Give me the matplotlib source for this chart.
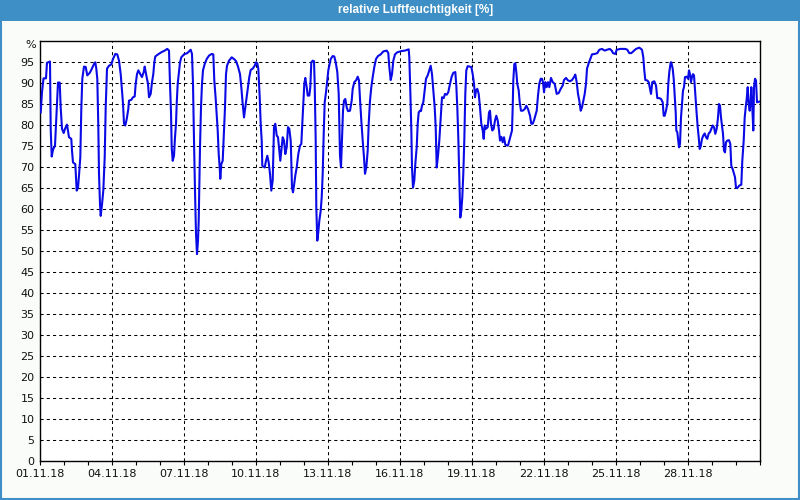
import numpy as np
import matplotlib
matplotlib.use("Agg")
import matplotlib.pyplot as plt
from matplotlib.patches import Rectangle
from matplotlib.ticker import MultipleLocator, FixedLocator

# Stunden seit 01.11.18 00:00 und relative Luftfeuchtigkeit in %
hours = [
    0.7, 2, 3, 3.5, 6, 7, 10, 10.3, 10.7, 11.7, 13, 15, 16, 18, 19.7, 20.7, 22, 23.7,
    25, 27, 29, 31.3, 32, 33, 35.3, 36.7, 38, 39, 40.3, 41.3, 42.3, 44, 45.7, 47.3,
    49.7, 51.3, 54, 55.3, 56.3, 57.3, 58.3, 59, 60, 60.7, 62, 63.3, 64.7, 65.7, 67, 69, 71.3,
    73, 75.3, 77.3, 79, 80.7, 82, 83, 84, 85.3, 86.7, 88.3, 89, 91.3, 93, 94.7, 95.7,
    97, 98.3, 100.3, 102, 103.7, 104.7, 106.3, 108, 109, 110.7, 112, 113.3, 114.3, 115.3, 118.7,
    121.3, 124.7, 127.3, 129, 130, 131, 131.7, 132.7, 134, 135, 136, 136.7, 137.7, 138.7, 140, 141.3,
    144, 147.3, 150.7, 152, 153, 154, 155, 156, 157, 158, 158.7, 159.3, 160, 161, 162, 163,
    164.7, 166.7, 169, 171.7, 173.3, 174.3, 175.7, 176.7, 177.7, 178.7, 179.7, 180.3, 181.3, 182.7,
    183.3, 184, 185, 186, 187, 189, 191.7, 194, 196, 198, 200, 201.3, 202.7, 204, 205.3, 206.7,
    208, 209.3, 210.7, 212.7, 214.7, 216, 217.3, 218.3, 219.7, 220.7, 221.7, 222.3, 224.7, 226,
    227.3, 228.7, 230, 231.3, 232.7, 234, 235.3, 236.7, 238, 239.3, 240.3, 241.3, 242.7, 244,
    245.3, 246.7, 248, 249.3, 250.7, 251, 252, 253, 254, 255.3, 256.7, 258.3, 260, 261.3, 262.3,
    263.3, 264.3, 265.3, 266.7, 267.7, 269.3, 270.3, 271.3, 272.7, 274, 274.7, 275.7, 276.3, 277.3,
    278.3, 279.3, 280.7, 281.7, 282.7, 283.7, 284.7, 286, 287.3, 288.3, 289.3, 290.7, 292.7, 294.3,
    295.7, 297.3, 298.7, 299.3, 300, 301, 302, 303, 304, 305.3, 306.7, 308, 310, 311.7, 312.7,
    314.3, 316.3, 317.7, 319, 320, 321.3, 322.7, 324, 325, 326.3, 327.7, 328.7, 330, 331.3, 332.7,
    334.3, 336, 338, 340.7, 343.3, 346.7, 348.3, 349.3, 350.7, 352, 353.3, 355, 357.3, 361.7, 365,
    368.7, 369.3, 370.3, 371.3, 372, 373, 374.3, 375.3, 376.7, 377.7, 378.7, 380, 381, 382, 383.3,
    384.7, 386, 387.7, 389.3, 390.7, 392, 393.3, 394.7, 395.7, 396.7, 398, 399.3, 400.7, 402,
    403.7, 405, 406.7, 408.3, 410, 411.7, 413.3, 415.3, 416.3, 417.3, 418.3, 419.3, 420.3, 421.3,
    422.3, 423.3, 424.3, 425.3, 426.3, 427.7, 429.3, 431.3, 432.7, 434, 435, 436, 437.3, 438.7,
    440, 441.3, 442.7, 443.7, 444.7, 446, 447.7, 449, 450, 451, 452.3, 453.7, 455, 456.3, 457.7,
    459, 460, 461.3, 462.7, 464, 465.3, 468, 469.3, 470.7, 472, 472.7, 473.3, 474.3, 475.3, 476.3,
    477.3, 478.7, 479.7, 481, 482.7, 484.7, 486.3, 488, 490, 491.3, 492.7, 494, 495.3, 496.7, 498,
    499.3, 500.7, 502, 503, 504, 505.3, 506.7, 508, 509.3, 511, 512.7, 514.7, 516.7, 518.7, 520.7,
    522.7, 524, 526, 528, 530, 532, 534, 535.3, 536.7, 538, 539.3, 540.7, 542, 543.3, 544.7, 546,
    547, 548.7, 550.3, 552, 554.7, 557.3, 559.3, 562, 564.7, 567, 569.7, 571.7, 573, 575.3, 576.7,
    580.3, 585.3, 587.3, 589.3, 591.3, 593.7, 596, 599.3, 602, 603.3, 604.3, 605.3, 607.3, 608.7,
    610, 611, 612.3, 614.3, 616, 617.3, 619.3, 621, 622.7, 623.7, 624.7, 626, 627.3, 628.3, 629.3,
    630.7, 631.3, 632.7, 633.7, 634.7, 635.7, 636.3, 637.3, 638.3, 639, 640, 641, 642, 643, 644,
    645, 646.7, 648, 649, 650, 651, 652, 653, 654, 654.7, 655.7, 656.7, 657.7, 658.7, 659.7, 660.7,
    662, 663.3, 664.7, 666, 667.3, 668.7, 670, 671.3, 672.7, 674, 675.3, 676.7, 678, 679, 680, 681,
    682, 683, 684, 685, 686, 687.3, 689, 690.3, 691.3, 692.7, 694, 695, 696, 697.3, 699.3, 701.3,
    702.3, 703.7, 704.7, 705.7, 706.7, 707.7, 708.7, 709.7, 710.7, 711.3, 712.3, 713.3, 714, 715,
    716, 717, 718.3, 720,
]
rh = [
    82.9, 87.7, 90, 91, 91, 94.7, 95, 87, 79, 72.4, 74, 75, 80, 90, 90, 84, 79, 78,
    79, 80, 77, 76.6, 73.8, 71, 70.6, 64.3, 65, 67.9, 72.2, 83.7, 90.9, 93.8, 93.7, 91.7,
    92.3, 93, 94.4, 94.8, 93.3, 90.9, 79.8, 68.3, 61, 58.3, 61, 64.3, 72.2, 84.1, 93.3, 94, 94.3,
    95.6, 96.8, 96.7, 95.2, 92, 88, 85, 80.2, 79.8, 81.3, 83.7, 85.7, 85.9, 86.5, 86.7, 89.7,
    92, 92.9, 92, 91.3, 92.5, 93.8, 91.7, 89.7, 86.5, 87.3, 90.1, 92, 94.8, 96.2, 96.8,
    97.2, 97.6, 98, 97.6, 89.7, 82.9, 74.6, 71.4, 72.6, 77, 80.2, 85, 89.7, 92, 94.8, 96,
    96.7, 97, 97.8, 96.8, 89.7, 76.2, 64.3, 54, 49.2, 52.4, 57.1, 65, 74.6, 84.1, 89.7, 92.9,
    94.4, 95.6, 96.4, 96.8, 96.7, 90.5, 86.1, 82.5, 78.6, 73, 69.8, 67.1, 70.6, 71.4,
    74.6, 78.6, 84.1, 92, 94, 95.2, 96, 95.6, 95.1, 93.8, 92, 88.9, 84.9, 81.7, 84.1, 86.5,
    88.9, 91.3, 93, 93.3, 94, 94.8, 94.6, 93.3, 86.5, 80.2, 76.2, 70.2, 69.8, 71.4,
    72.6, 71, 68.3, 64.3, 66.7, 79.4, 80.2, 77.4, 77, 73.8, 71.4, 73.8, 77, 76.2,
    73, 74.6, 79.4, 79, 76.2, 74, 65, 63.9, 65.5, 67.9, 69.8, 73, 75, 75.4, 80.2,
    84.5, 89.7, 91.1, 88.9, 86.9, 86.9, 88.9, 94.8, 95.2, 95.1, 89.7, 76.2, 60.3, 52.4,
    54.4, 57.1, 59.5, 62.7, 68.3, 77.8, 85.3, 87.7, 90.5, 92.9, 94, 95.6, 96.3, 96.2,
    94.8, 92.5, 87.3, 80.2, 72.6, 69.8, 76.2, 83.3, 85.7, 86.1, 84.1, 83.2, 83.3, 85.7, 88.5,
    90.1, 90.6, 91.4, 90.5, 86.1, 81, 76.2, 72.2, 68.3, 69.8, 73.8, 80.2, 85.7, 88.9, 91.3,
    93.7, 95.6, 96.3, 96.7, 97.4, 97.6, 97, 93.7, 90.6, 92, 95.2, 96.7, 97.2, 97.5, 97.6,
    97.9, 96, 88.1, 79, 69.8, 65, 66.7, 70.6, 74.6, 80.2, 82.9, 83.3, 83.2, 84.5, 85.3,
    88.1, 90.9, 91.7, 92.9, 94, 92, 88.1, 84.1, 79.4, 69.8, 72.6, 76.2, 81.7, 86.5,
    86.3, 87.3, 87.1, 87.7, 89.7, 91.4, 92.3, 92.5, 89.3, 84.1, 77, 67.1, 57.9, 59.5,
    62.7, 68.3, 76.2, 87.3, 92.9, 93.9, 93.8, 93.7, 92, 89.7, 86.5, 88.1, 88.5, 87.3,
    84.1, 80.2, 78.6, 76.6, 79.8, 79, 79.4, 82.9, 83.3, 80.2, 78.6, 79, 81, 82.1, 81,
    78.6, 76.2, 77.1, 75.8, 77, 75.2, 75, 76.2, 77.4, 78.6, 84.1, 90.5, 94.4, 94.6, 92.5,
    89.7, 88.1, 85.3, 83.3, 83.3, 83.7, 84.5, 83.7, 82.1, 80.2, 80.2, 81, 82.1, 83.3, 86.9,
    89.7, 90.9, 90.9, 90.1, 87.7, 90.1, 88.9, 90.1, 88.9, 91.1, 90.1, 89.7, 87.3, 87.5, 88.5,
    89.3, 90.6, 91.1, 90.5, 90.3, 90.6, 91.3, 91.9, 90.1, 87.3, 85.7, 83.3, 84.1, 85.7, 87.3, 89.7,
    93.3, 94.6, 95.6, 96.7, 96.8, 97, 97.8, 98, 97.6, 97.8, 98, 97.6, 97, 96.8, 97.8,
    98, 98, 97.8, 97, 97, 97.5, 98, 98.3, 97.8, 96, 92.9, 90.6, 90.5, 90.1,
    88.5, 87.3, 90.1, 90.3, 89.3, 86.3, 86.3, 86.1, 85.3, 82.1, 82.1, 83.3, 84.9, 89.7, 92.5,
    94.8, 94.8, 93.3, 90.9, 86.9, 82.9, 78.6, 78.2, 76.2, 74.6, 75.4, 81.7, 84.9, 88.1, 88.9,
    91.3, 91.4, 90.9, 92.9, 92, 90.1, 91.3, 92, 91.7, 89.3, 86.1, 82.5, 79.4, 77, 74.2, 74.8,
    76.6, 77.4, 77.9, 77, 76.6, 77.9, 78.2, 79, 79.8, 79.4, 77.8, 79, 81.7, 84.9, 84.5, 81.7,
    79.8, 77.8, 73.8, 73.4, 75.8, 76.2, 76.3, 75.4, 70.2, 69.4, 68.3, 67.5, 65, 64.9, 65.5, 65.7,
    71.4, 76.2, 81.7, 84.1, 86.1, 88.9, 84.9, 83.3, 85.7, 88.9, 84.1, 78.6, 88.9, 90.9,
    90.5, 85.3, 85.4, 85.5,
]

tick_days = [0, 3, 6, 9, 12, 15, 18, 21, 24, 27]
tick_labels = ["01.11.18", "04.11.18", "07.11.18", "10.11.18", "13.11.18",
               "16.11.18", "19.11.18", "22.11.18", "25.11.18", "28.11.18"]

title = "relative Luftfeuchtigkeit [%]"
blue_bar = "#3d8fc6"

fig = plt.figure(figsize=(8, 5), dpi=100, facecolor="#fafcfa")

# Titelleiste und Rahmen
fig.patches.append(Rectangle((0, 1 - 21 / 500), 1, 21 / 500, transform=fig.transFigure,
                             facecolor=blue_bar, edgecolor="none", zorder=0))
fig.patches.append(Rectangle((0.001, 0.002), 0.998, 0.996, transform=fig.transFigure,
                             facecolor="none", edgecolor=blue_bar, linewidth=1.5, zorder=1))
fig.text(0.52, 1 - 10.5 / 500, title, color="white", fontsize=8.5, fontweight="bold",
         family="Liberation Sans", ha="center", va="center")

ax = fig.add_axes([40 / 800, 39 / 500, 720 / 800, 420.5 / 500])
ax.set_facecolor("white")

days = np.array(hours) / 24.0
ax.plot(days, rh, color="#0a0ae6", linewidth=1.5, zorder=3)

ax.set_xlim(0, 30)
ax.set_ylim(0, 100)

ax.set_yticks(np.arange(0, 100, 5))
ax.xaxis.set_major_locator(FixedLocator(tick_days))
ax.set_xticklabels(tick_labels)
ax.xaxis.set_minor_locator(MultipleLocator(1))

ax.grid(True, which="major", color="black", linestyle=(0, (3, 3)), linewidth=0.75)
ax.tick_params(axis="y", length=0, pad=4, labelsize=8, labelcolor="#101010")
ax.tick_params(axis="x", which="both", direction="out", length=3, width=0.8,
               pad=3, labelsize=8, labelcolor="#101010")

for s in ax.spines.values():
    s.set_linewidth(1.0)
    s.set_color("black")

ax.text(-0.006, 99, "%", transform=ax.get_yaxis_transform(), ha="right", va="center",
        fontsize=8, color="#101010")

fig.savefig("out.png", dpi=100, facecolor=fig.get_facecolor())
